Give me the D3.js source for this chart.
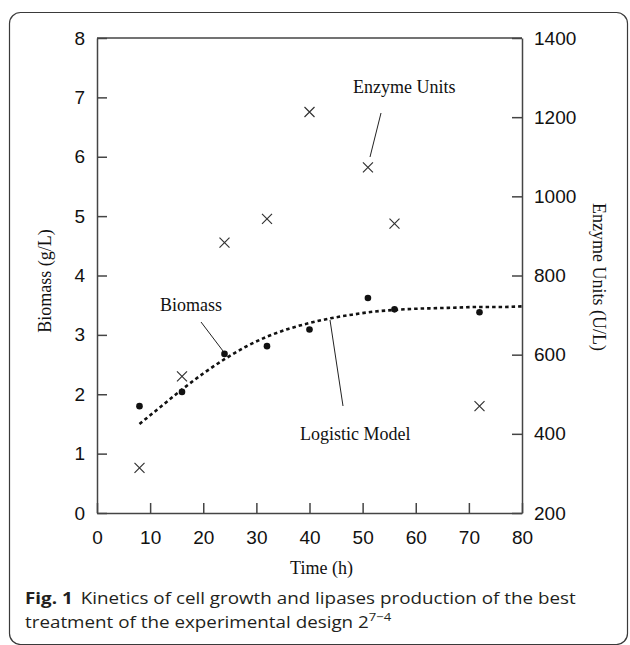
<html>
<head>
<meta charset="utf-8">
<script src="https://d3js.org/d3.v7.min.js"></script>
<style>
  body { margin: 0; background: #fff; }
</style>
</head>
<body>
<svg width="630" height="645"></svg>
<script>
  // data
  var time = [8, 16, 24, 32, 40, 51, 56, 72];
  var biomass = [1.80, 2.04, 2.68, 2.81, 3.09, 3.62, 3.43, 3.38];
  var enzyme = [314, 545, 883, 943, 1213, 1073, 931, 470];
  var modelTime = [8, 12, 16, 20, 24, 28, 32, 36, 40, 44, 48, 52, 56, 60, 64, 68, 72, 76, 80];
  var modelBiomass = [1.50, 1.79, 2.08, 2.35, 2.59, 2.80, 2.97, 3.10, 3.20, 3.28, 3.34, 3.39, 3.42, 3.44, 3.45, 3.46, 3.47, 3.47, 3.48];
  var xTicks = [0, 10, 20, 30, 40, 50, 60, 70, 80];
  var leftTicks = [0, 1, 2, 3, 4, 5, 6, 7, 8];
  var rightTicks = [200, 400, 600, 800, 1000, 1200, 1400];

  var svg = d3.select("svg");
  var marge = {left: 97, right: 522, top: 38, bottom: 513};
  var serif = "'Liberation Serif', 'Times New Roman', serif";
  var sans = "'Liberation Sans', Arial, sans-serif";

  // outer frame of the figure
  svg.append("rect")
    .attr("x", 9.5).attr("y", 12.5)
    .attr("width", 618).attr("height", 632)
    .attr("rx", 11)
    .attr("fill", "none")
    .attr("stroke", "#3a3a3a")
    .attr("stroke-width", 1.2);

  var x = d3.scaleLinear().domain([0, 80]).range([marge.left, marge.right]);
  var yL = d3.scaleLinear().domain([0, 8]).range([marge.bottom, marge.top]);
  var yR = d3.scaleLinear().domain([200, 1400]).range([marge.bottom, marge.top]);

  // axes, ticks pointing inward
  var gx = svg.append("g")
    .attr("transform", "translate(0," + marge.bottom + ")")
    .call(d3.axisBottom(x).tickValues(xTicks).tickSize(-10).tickSizeOuter(0).tickPadding(18));
  var gl = svg.append("g")
    .attr("transform", "translate(" + marge.left + ",0)")
    .call(d3.axisLeft(yL).tickValues(leftTicks).tickSize(-10).tickSizeOuter(0).tickPadding(12));
  var gr = svg.append("g")
    .attr("transform", "translate(" + marge.right + ",0)")
    .call(d3.axisRight(yR).tickValues(rightTicks).tickFormat(d3.format("d"))
      .tickSize(-10).tickSizeOuter(0).tickPadding(12));

  // top border of the plot box
  svg.append("line")
    .attr("x1", marge.left).attr("x2", marge.right)
    .attr("y1", marge.top).attr("y2", marge.top)
    .attr("stroke", "#444").attr("stroke-width", 1.5);

  [gx, gl, gr].forEach(function(g){
    g.attr("font-family", sans);
    g.selectAll("path, line").attr("stroke", "#444").attr("stroke-width", 1.5);
    g.selectAll("text")
      .attr("fill", "#111")
      .style("font-family", sans)
      .style("font-size", "19px");
  });

  // axis titles
  svg.append("text")
    .attr("x", (marge.left + marge.right) / 2 + 12)
    .attr("y", 574)
    .attr("text-anchor", "middle")
    .style("font-family", serif).style("font-size", "18px")
    .attr("fill", "#111")
    .text("Time (h)");
  svg.append("text")
    .attr("transform", "translate(51,281) rotate(-90)")
    .attr("text-anchor", "middle")
    .style("font-family", serif).style("font-size", "18px")
    .attr("fill", "#111")
    .text("Biomass (g/L)");
  svg.append("text")
    .attr("transform", "translate(593,277) rotate(90)")
    .attr("text-anchor", "middle")
    .style("font-family", serif).style("font-size", "18px")
    .attr("fill", "#111")
    .text("Enzyme Units (U/L)");

  // logistic model (dotted)
  var line = d3.line()
    .x(function(d, i){ return x(modelTime[i]); })
    .y(function(d){ return yL(d); })
    .curve(d3.curveMonotoneX);
  svg.append("path")
    .datum(modelBiomass)
    .attr("d", line)
    .attr("fill", "none")
    .attr("stroke", "#111")
    .attr("stroke-width", 2.6)
    .attr("stroke-dasharray", "3.5,3");

  // biomass dots
  svg.selectAll(".dot")
    .data(biomass)
    .enter()
    .append("circle")
    .attr("cx", function(d, i){ return x(time[i]); })
    .attr("cy", function(d){ return yL(d); })
    .attr("r", 3.3)
    .attr("fill", "#111");

  // enzyme crosses
  svg.selectAll(".cross")
    .data(enzyme)
    .enter()
    .append("path")
    .attr("transform", function(d, i){ return "translate(" + x(time[i]) + "," + yR(d) + ")"; })
    .attr("d", "M-5,-5L5,5M-5,5L5,-5")
    .attr("fill", "none")
    .attr("stroke", "#333")
    .attr("stroke-width", 1.2);

  // annotations with leader lines
  var notes = [
    {text: "Enzyme Units", tx: 353, ty: 93, x1: 381, y1: 113, x2: 370, y2: 157},
    {text: "Biomass", tx: 160, ty: 311, x1: 201, y1: 322, x2: 223, y2: 351},
    {text: "Logistic Model", tx: 300, ty: 440, x1: 330, y1: 320, x2: 343, y2: 406}
  ];
  notes.forEach(function(n){
    svg.append("text")
      .attr("x", n.tx).attr("y", n.ty)
      .style("font-family", serif).style("font-size", "18px")
      .attr("fill", "#111")
      .text(n.text);
    svg.append("line")
      .attr("x1", n.x1).attr("y1", n.y1)
      .attr("x2", n.x2).attr("y2", n.y2)
      .attr("stroke", "#222").attr("stroke-width", 1);
  });

  // caption
  var capFont = "'Open Sans', 'Noto Sans', sans-serif";
  var c1 = svg.append("g");
  var t1 = c1.append("text")
    .style("font-family", capFont).style("font-size", "16.5px")
    .attr("fill", "#231f20");
  t1.append("tspan").style("font-weight", "bold").text("Fig. 1");
  t1.append("tspan").attr("dx", 7).text("Kinetics of cell growth and lipases production of the best");
  var k = 543 / t1.node().getComputedTextLength();
  c1.attr("transform", "translate(25,604) scale(" + k + ",1)");

  var c2 = svg.append("g")
    .attr("transform", "translate(25,628) scale(" + k + ",1)");
  var t2 = c2.append("text")
    .style("font-family", capFont).style("font-size", "16.5px")
    .attr("fill", "#231f20");
  t2.append("tspan").text("treatment of the experimental design 2");
  t2.append("tspan")
    .attr("dy", -7)
    .style("font-size", "11.5px")
    .text("7\u22124");
</script>
</body>
</html>
